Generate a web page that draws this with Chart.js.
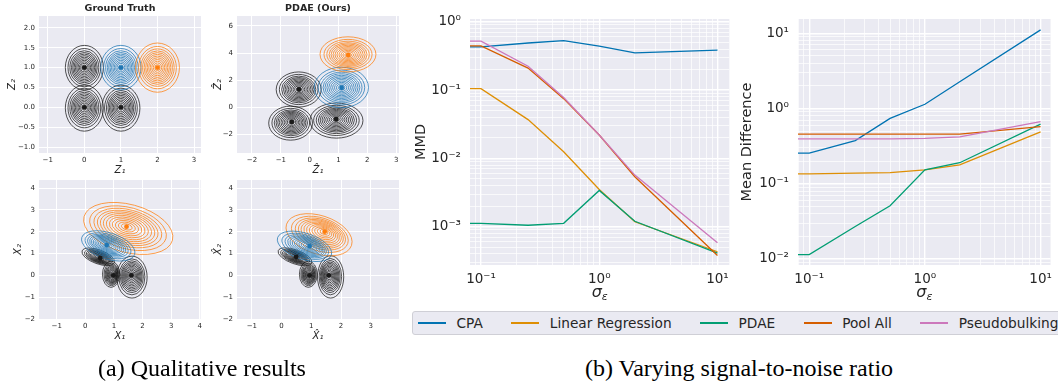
<!DOCTYPE html>
<html>
<head>
<meta charset="utf-8">
<script src="https://cdn.jsdelivr.net/npm/chart.js@4.4.1/dist/chart.umd.min.js"></script>
<style>
  body { margin: 0; width: 1058px; height: 381px; overflow: hidden; position: relative; background: #fff; font-family: "DejaVu Sans", sans-serif; }
  canvas { position: absolute; }
  #legend { position: absolute; left: 412px; top: 311px; width: 680px; height: 22px; border: 1px solid #cfcfd6; border-radius: 3px; background: #EAEAF2; display: flex; align-items: center; padding-left: 5px; font-family: "DejaVu Sans"; font-size: 13.7px; color: #262626; box-sizing: content-box; }
  #legend .item { display: flex; align-items: center; margin-right: 28.5px; white-space: nowrap; }
  #legend .swatch { width: 28px; height: 1.5px; margin-right: 10.5px; }
  .caption { position: absolute; top: 356px; font-family: "Liberation Serif", "Times New Roman", serif; font-size: 24px; line-height: 24px; white-space: nowrap; transform: translateX(-50%); color: #000; }
</style>
</head>
<body>
<canvas id="gt" width="205" height="180" style="left:0;top:0"></canvas>
<canvas id="pdae" width="200" height="180" style="left:205px;top:0"></canvas>
<canvas id="gtX" width="205" height="181" style="left:0;top:165px"></canvas>
<canvas id="pdaeX" width="200" height="181" style="left:205px;top:165px"></canvas>
<canvas id="mmd" width="325" height="305" style="left:410px;top:0"></canvas>
<canvas id="meanDiff" width="328" height="305" style="left:730px;top:0"></canvas>
<div id="legend"></div>
<div class="caption" style="left:202px">(a) Qualitative results</div>
<div class="caption" style="left:739px">(b) Varying signal-to-noise ratio</div>

<script>
// ---- line chart data ----
const SIGMA = [0, 0.1, 0.25, 0.5, 1, 2, 10];
const METHODS = ['CPA', 'Linear Regression', 'PDAE', 'Pool All', 'Pseudobulking'];
const COLORS = ['#0173B2', '#DE8F05', '#029E73', '#D55E00', '#CC78BC'];

const MMD_CPA = [0.43, 0.43, 0.49, 0.53, 0.44, 0.35, 0.385];
const MMD_LINREG = [0.105, 0.105, 0.037, 0.0125, 0.0035, 0.00118, 0.00043];
const MMD_PDAE = [0.00112, 0.00112, 0.00105, 0.00112, 0.0034, 0.0012, 0.00041];
const MMD_POOL = [0.445, 0.445, 0.21, 0.075, 0.022, 0.0054, 0.00038];
const MMD_PSEUDO = [0.52, 0.52, 0.224, 0.078, 0.022, 0.0057, 0.00058];

const MD_CPA = [0.255, 0.255, 0.375, 0.74, 1.14, 2.27, 11.1];
const MD_LINREG = [0.135, 0.135, 0.138, 0.14, 0.153, 0.178, 0.49];
const MD_PDAE = [0.0114, 0.0114, 0.027, 0.051, 0.153, 0.19, 0.62];
const MD_POOL = [0.456, 0.456, 0.456, 0.456, 0.456, 0.456, 0.575];
const MD_PSEUDO = [0.395, 0.395, 0.395, 0.395, 0.40, 0.42, 0.67];

// ---- contour panels: cluster means and outer contour [cx, cy, halfX, halfY, tiltDeg] ----
const GT_BLACK_MEANS = [[0, 1], [0, 0], [1, 0]];
const GT_BLACK_SHAPES = [[0, 1, 0.52, 0.56, 0], [0, -0.02, 0.52, 0.58, 0], [1, -0.02, 0.52, 0.58, 0]];
const GT_BLUE_MEANS = [[1, 1]];
const GT_BLUE_SHAPES = [[1, 1, 0.55, 0.56, 0]];
const GT_ORANGE_MEANS = [[2, 1]];
const GT_ORANGE_SHAPES = [[2, 1, 0.6, 0.62, 0]];

const PD_BLACK_MEANS = [[-0.37, 1.31], [-0.62, -1.1], [0.92, -0.9]];
const PD_BLACK_SHAPES = [[-0.38, 1.3, 0.78, 1.3, 0], [-0.66, -1.19, 0.76, 1.26, 0], [0.93, -1.0, 0.92, 1.3, 0]];
const PD_BLUE_MEANS = [[1.11, 1.43]];
const PD_BLUE_SHAPES = [[1.1, 1.45, 0.94, 1.5, 0]];
const PD_ORANGE_MEANS = [[1.34, 3.85]];
const PD_ORANGE_SHAPES = [[1.33, 3.9, 0.97, 1.3, 0]];

const GTX_BLACK_MEANS = [[0.52, 0.79], [0.98, 0.0], [1.61, 0.0]];
const GTX_BLACK_SHAPES = [[0.45, 0.85, 0.6, 0.32, 20], [0.9, 0.05, 0.3, 0.6, 0], [1.63, -0.08, 0.53, 0.96, 0]];
const GTX_BLUE_MEANS = [[0.75, 1.39]];
const GTX_BLUE_SHAPES = [[0.8, 1.35, 0.97, 0.6, 18]];
const GTX_ORANGE_MEANS = [[1.44, 2.23]];
const GTX_ORANGE_SHAPES = [[1.5, 2.15, 1.6, 1.1, 15]];

const PDX_BLACK_MEANS = [[0.49, 0.85], [0.94, 0.0], [1.59, 0.0]];
const PDX_BLACK_SHAPES = [[0.45, 0.85, 0.6, 0.32, 20], [0.9, 0.05, 0.3, 0.6, 0], [1.65, -0.07, 0.44, 0.97, 0]];
const PDX_BLUE_MEANS = [[0.94, 1.34]];
const PDX_BLUE_SHAPES = [[0.77, 1.33, 0.95, 0.6, 18]];
const PDX_ORANGE_MEANS = [[1.45, 2.0]];
const PDX_ORANGE_SHAPES = [[1.26, 1.86, 1.15, 0.88, 18]];

const RING_LEVELS = [1, 0.86, 0.76, 0.68, 0.61, 0.54, 0.47, 0.4, 0.33, 0.26, 0.19, 0.12];

const INK = '#262626';
const PANEL_BG = '#EAEAF2';
const LOG_FLOOR = 1e-6; // where sigma = 0 lands on a log axis (clipped, like matplotlib)

const BLACK = '#1a1a1a', BLUE = '#1f77b4', ORANGE = '#ff7f0e';

Chart.defaults.font.family = '"DejaVu Sans", sans-serif';
Chart.defaults.color = INK;

function minus(s) { return String(s).replace('-', '\u2212'); }

const panelBg = {
  id: 'panelBg',
  beforeDraw(chart) {
    const { ctx, chartArea: a } = chart;
    ctx.save();
    ctx.fillStyle = PANEL_BG;
    ctx.fillRect(a.left, a.top, a.right - a.left, a.bottom - a.top);
    ctx.restore();
  }
};

// KDE-like rings: shrink from the outer contour towards the cluster mean
function contourPlugin(groups) {
  return {
    id: 'contours',
    beforeDatasetsDraw(chart) {
      const { ctx, chartArea: a, scales: { x, y } } = chart;
      ctx.save();
      ctx.beginPath();
      ctx.rect(a.left, a.top, a.right - a.left, a.bottom - a.top);
      ctx.clip();
      ctx.lineWidth = 0.75;
      groups.forEach(g => {
        ctx.strokeStyle = g.color;
        g.shapes.forEach(([cx, cy, hx, hy, tilt], i) => {
          const [mx, my] = g.means[i];
          RING_LEVELS.forEach(s => {
            const ex = mx + (cx - mx) * s, ey = my + (cy - my) * s;
            const px = x.getPixelForValue(ex), py = y.getPixelForValue(ey);
            const rx = Math.abs(x.getPixelForValue(ex + hx * s) - px);
            const ry = Math.abs(y.getPixelForValue(ey + hy * s) - py);
            ctx.beginPath();
            ctx.ellipse(px, py, rx, ry, tilt * Math.PI / 180, 0, 2 * Math.PI);
            ctx.stroke();
          });
        });
      });
      ctx.restore();
    }
  };
}

function panelTitle(text) {
  return {
    id: 'panelTitle',
    afterDraw(chart) {
      if (!text) return;
      const { ctx, chartArea: a } = chart;
      ctx.save();
      ctx.fillStyle = INK;
      ctx.font = 'bold 9.5px "DejaVu Sans"';
      ctx.textAlign = 'center';
      ctx.textBaseline = 'middle';
      ctx.fillText(text, (a.left + a.right) / 2, 9);
      ctx.restore();
    }
  };
}

function contourChart(id, p) {
  new Chart(document.getElementById(id), {
    type: 'scatter',
    data: {
      datasets: p.groups.map(g => ({
        data: g.means.map(([x, y]) => ({ x, y })),
        backgroundColor: g.color,
        borderWidth: 0,
        pointRadius: 2.4
      }))
    },
    options: {
      responsive: false,
      animation: false,
      events: [],
      layout: { padding: { top: p.padTop, right: p.padRight, left: 0, bottom: 0 } },
      plugins: { legend: { display: false }, tooltip: { enabled: false } },
      scales: {
        x: {
          type: 'linear', min: p.x[0], max: p.x[1],
          afterFit: s => { s.height = p.xH; },
          ticks: { stepSize: p.x[2], includeBounds: false, padding: 3, color: INK, font: { size: 7 }, maxRotation: 0,
                   callback: v => minus(v) },
          grid: { color: '#fff', lineWidth: 1, drawTicks: false },
          border: { display: false },
          title: { display: true, text: p.xLabel, color: INK, font: { size: 10, style: 'italic' }, padding: { top: 0, bottom: 4 } }
        },
        y: {
          type: 'linear', min: p.y[0], max: p.y[1],
          afterFit: s => { s.width = p.yW; },
          ticks: { stepSize: p.y[2], includeBounds: false, padding: 4, color: INK, font: { size: 7 },
                   callback: v => minus(p.y[3] ? v.toFixed(p.y[3]) : v) },
          grid: { color: '#fff', lineWidth: 1, drawTicks: false },
          border: { display: false },
          title: { display: true, text: p.yLabel, color: INK, font: { size: 10, style: 'italic' }, padding: { top: p.yTitlePad, bottom: 0 } }
        }
      }
    },
    plugins: [panelBg, contourPlugin(p.groups), panelTitle(p.title)]
  });
}

contourChart('gt', {
  title: 'Ground Truth', xLabel: 'Z\u2081', yLabel: 'Z\u2082',
  x: [-1.24, 3.19, 1], y: [-1.15, 2.3, 0.5, 1],
  padTop: 16, padRight: 2, xH: 27, yW: 39, yTitlePad: 6,
  groups: [
    { color: BLACK, means: GT_BLACK_MEANS, shapes: GT_BLACK_SHAPES },
    { color: BLUE, means: GT_BLUE_MEANS, shapes: GT_BLUE_SHAPES },
    { color: ORANGE, means: GT_ORANGE_MEANS, shapes: GT_ORANGE_SHAPES }
  ]
});

contourChart('pdae', {
  title: 'PDAE (Ours)', xLabel: '\u1E90\u2081', yLabel: '\u1E90\u2082',
  x: [-2.52, 3.1, 1], y: [-3.4, 6.74, 2, 0],
  padTop: 16, padRight: 6, xH: 27, yW: 32, yTitlePad: 7,
  groups: [
    { color: BLACK, means: PD_BLACK_MEANS, shapes: PD_BLACK_SHAPES },
    { color: BLUE, means: PD_BLUE_MEANS, shapes: PD_BLUE_SHAPES },
    { color: ORANGE, means: PD_ORANGE_MEANS, shapes: PD_ORANGE_SHAPES }
  ]
});

contourChart('gtX', {
  title: '', xLabel: 'X\u2081', yLabel: 'X\u2082',
  x: [-1.62, 4.03, 1], y: [-2, 4.37, 1, 0],
  padTop: 15, padRight: 2, xH: 27, yW: 39, yTitlePad: 12,
  groups: [
    { color: BLACK, means: GTX_BLACK_MEANS, shapes: GTX_BLACK_SHAPES },
    { color: ORANGE, means: GTX_ORANGE_MEANS, shapes: GTX_ORANGE_SHAPES },
    { color: BLUE, means: GTX_BLUE_MEANS, shapes: GTX_BLUE_SHAPES }
  ]
});

contourChart('pdaeX', {
  title: '', xLabel: 'X\u0302\u2081', yLabel: 'X\u0302\u2082',
  x: [-1.5, 3.95, 1], y: [-2, 4.37, 1, 0],
  padTop: 15, padRight: 6, xH: 27, yW: 32, yTitlePad: 7,
  groups: [
    { color: BLACK, means: PDX_BLACK_MEANS, shapes: PDX_BLACK_SHAPES },
    { color: ORANGE, means: PDX_ORANGE_MEANS, shapes: PDX_ORANGE_SHAPES },
    { color: BLUE, means: PDX_BLUE_MEANS, shapes: PDX_BLUE_SHAPES }
  ]
});

// ---- log-log line charts ----
const SUP = { '-': '\u207B', '0': '\u2070', '1': '\u00B9', '2': '\u00B2', '3': '\u00B3', '4': '\u2074' };

function isDecade(v) {
  const l = Math.log10(v);
  return Math.abs(l - Math.round(l)) < 1e-9;
}

function logTicks(min, max) {
  const out = [];
  for (let e = Math.floor(Math.log10(min)); e <= Math.ceil(Math.log10(max)); e++) {
    for (let k = 1; k <= 9; k++) {
      const v = k * Math.pow(10, e);
      if (v >= min && v <= max) out.push({ value: v });
    }
  }
  return out;
}

function decadeLabel(v) {
  if (!isDecade(v)) return '';
  return '10' + String(Math.round(Math.log10(v))).split('').map(c => SUP[c]).join('');
}

const sigmaLabel = {
  id: 'sigmaLabel',
  afterDraw(chart) {
    const { ctx, chartArea: a } = chart;
    const cx = (a.left + a.right) / 2;
    ctx.save();
    ctx.fillStyle = INK;
    ctx.textBaseline = 'alphabetic';
    ctx.font = 'italic 16px "DejaVu Sans"';
    const w1 = ctx.measureText('\u03C3').width;
    ctx.font = 'italic 11px "DejaVu Sans"';
    const w2 = ctx.measureText('\u03B5').width;
    const x0 = cx - (w1 + w2) / 2;
    ctx.font = 'italic 16px "DejaVu Sans"';
    ctx.fillText('\u03C3', x0, 297);
    ctx.font = 'italic 11px "DejaVu Sans"';
    ctx.fillText('\u03B5', x0 + w1, 300);
    ctx.restore();
  }
};

function gridWidth(c) {
  return c.tick && isDecade(c.tick.value) ? 1.4 : 0.7;
}

function logChart(id, p) {
  new Chart(document.getElementById(id), {
    type: 'line',
    data: {
      datasets: METHODS.map((m, i) => ({
        label: m,
        data: SIGMA.map((s, j) => ({ x: s > 0 ? s : LOG_FLOOR, y: p.series[i][j] })),
        borderColor: COLORS[i],
        backgroundColor: COLORS[i],
        borderWidth: 1.3,
        pointRadius: 0,
        tension: 0,
        order: METHODS.length - i
      }))
    },
    options: {
      responsive: false,
      animation: false,
      events: [],
      layout: { padding: { top: 19, right: p.padRight, left: 0, bottom: 0 } },
      plugins: { legend: { display: false }, tooltip: { enabled: false } },
      scales: {
        x: {
          type: 'logarithmic', min: p.x[0], max: p.x[1],
          afterBuildTicks: s => { s.ticks = logTicks(s.min, s.max); },
          afterFit: s => { s.height = 40; },
          ticks: { autoSkip: false, maxRotation: 0, padding: 6, color: INK, font: { size: 13.5 }, callback: decadeLabel },
          grid: { color: '#fff', lineWidth: gridWidth, drawTicks: false },
          border: { display: false }
        },
        y: {
          type: 'logarithmic', min: p.y[0], max: p.y[1],
          afterBuildTicks: s => { s.ticks = logTicks(s.min, s.max); },
          afterFit: s => { s.width = p.yW; },
          ticks: { autoSkip: false, padding: 9, color: INK, font: { size: 13.5 }, callback: decadeLabel },
          grid: { color: '#fff', lineWidth: gridWidth, drawTicks: false },
          border: { display: false },
          title: { display: true, text: p.yLabel, color: INK, font: { size: 14.5 }, padding: { top: p.yTitlePad, bottom: 0 } }
        }
      }
    },
    plugins: [panelBg, sigmaLabel]
  });
}

logChart('mmd', {
  yLabel: 'MMD',
  series: [MMD_CPA, MMD_LINREG, MMD_PDAE, MMD_POOL, MMD_PSEUDO],
  x: [0.0807, 12.6], y: [2.75e-4, 1.1],
  yW: 60, padRight: 5, yTitlePad: 3
});

logChart('meanDiff', {
  yLabel: 'Mean Difference',
  series: [MD_CPA, MD_LINREG, MD_PDAE, MD_POOL, MD_PSEUDO],
  x: [0.080, 12.2], y: [0.0083, 15.5],
  yW: 68, padRight: 3, yTitlePad: 9
});

// shared legend under both line charts
const legend = document.getElementById('legend');
METHODS.forEach((m, i) => {
  const item = document.createElement('div');
  item.className = 'item';
  item.innerHTML = `<span class="swatch" style="background:${COLORS[i]}"></span><span>${m}</span>`;
  legend.appendChild(item);
});
</script>
</body>
</html>
